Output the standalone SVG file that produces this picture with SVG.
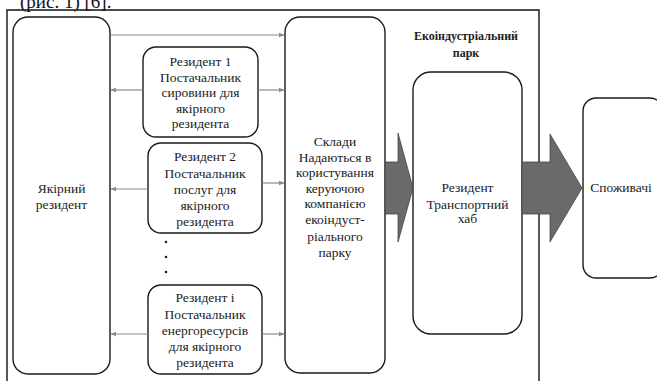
<svg xmlns="http://www.w3.org/2000/svg" width="657" height="381" viewBox="0 0 657 381">
<defs>
<marker id="ah" markerWidth="6" markerHeight="6" refX="5" refY="3" orient="auto" markerUnits="userSpaceOnUse">
<path d="M0,0.8 L5.5,3 L0,5.2 Z" fill="#8a8a8a"/>
</marker>
</defs>
<style>
.box{fill:#fff;stroke:#1a1a1a;stroke-width:1.4}
.t{font-size:13.5px;fill:#222;text-anchor:middle}
.b{font-size:12px;font-weight:bold;fill:#222;text-anchor:middle}
.c{stroke:#8a8a8a;stroke-width:1.2;fill:none;marker-end:url(#ah)}
.big{fill:#6a6a6a;stroke:#444;stroke-width:0.8}
.frame{stroke:#111;stroke-width:1.4;fill:none}
</style>
<rect width="657" height="381" fill="#fff"/>
<g font-family="'Liberation Serif', 'Times New Roman', serif">
<text x="20" y="8" font-size="19" fill="#111">(рис. 1) [6].</text>
<g id="frame">
<path class="frame" d="M7,381 L7,10 L539,10 L539,162 M539,214 L539,381"/>
<text class="b" x="466" y="40">Екоіндустріальний</text>
<text class="b" x="466" y="57">парк</text>
</g>
<g id="anchor">
<rect class="box" x="13" y="17" width="97" height="357" rx="15"/>
<text class="t" x="61.5" y="193">Якірний</text>
<text class="t" x="61.5" y="209">резидент</text>
</g>
<g id="res1">
<rect class="box" x="143" y="47" width="115" height="90" rx="13"/>
<text class="t" x="200.5" y="66">Резидент 1</text>
<text class="t" x="200.5" y="81.5">Постачальник</text>
<text class="t" x="200.5" y="97">сировини для</text>
<text class="t" x="200.5" y="112.5">якірного</text>
<text class="t" x="200.5" y="128">резидента</text>
</g>
<g id="res2">
<rect class="box" x="148" y="143" width="114" height="90" rx="13"/>
<text class="t" x="205" y="161">Резидент 2</text>
<text class="t" x="205" y="178">Постачальник</text>
<text class="t" x="205" y="194">послуг для</text>
<text class="t" x="205" y="209.5">якірного</text>
<text class="t" x="205" y="226">резидента</text>
</g>
<g id="dots" fill="#222">
<circle cx="166" cy="242" r="1.3"/>
<circle cx="166" cy="257" r="1.3"/>
<circle cx="166" cy="272" r="1.3"/>
</g>
<g id="resi">
<rect class="box" x="148" y="285" width="114" height="89" rx="13"/>
<text class="t" x="205" y="302">Резидент і</text>
<text class="t" x="205" y="319">Постачальник</text>
<text class="t" x="205" y="334.5">енергоресурсів</text>
<text class="t" x="205" y="351">для якірного</text>
<text class="t" x="205" y="367">резидента</text>
</g>
<g id="sklady">
<rect class="box" x="285" y="17" width="100" height="356" rx="15"/>
<text class="t" x="335" y="146">Склади</text>
<text class="t" x="335" y="161.5">Надаються в</text>
<text class="t" x="335" y="177">користування</text>
<text class="t" x="335" y="192.5">керуючою</text>
<text class="t" x="335" y="208">компанією</text>
<text class="t" x="335" y="224">екоіндуст-</text>
<text class="t" x="335" y="241">ріального</text>
<text class="t" x="335" y="257">парку</text>
</g>
<g id="hub">
<rect class="box" x="413" y="72" width="109" height="262" rx="18"/>
<text class="t" x="467.5" y="192">Резидент</text>
<text class="t" x="467.5" y="209">Транспортний</text>
<text class="t" x="467.5" y="223">хаб</text>
</g>
<g id="consumers">
<rect class="box" x="583" y="98" width="80" height="180" rx="13"/>
<text class="t" x="621" y="192">Споживачі</text>
</g>
</g>
<g id="connectors">
<line class="c" x1="110" y1="35" x2="284" y2="35"/>
<line class="c" x1="143" y1="90" x2="111" y2="90"/>
<line class="c" x1="258" y1="90" x2="284" y2="90"/>
<line class="c" x1="148" y1="189" x2="111" y2="189"/>
<line class="c" x1="262" y1="183" x2="284" y2="183"/>
<line class="c" x1="148" y1="334" x2="111" y2="334"/>
<line class="c" x1="262" y1="334" x2="284" y2="334"/>
<path class="big" d="M385,162 L398,162 L398,133 L413,188 L398,242 L398,214 L385,214 Z"/>
<path class="big" d="M522,162 L550,162 L550,134 L582,188 L550,242 L550,214 L522,214 Z"/>
</g>
</svg>
